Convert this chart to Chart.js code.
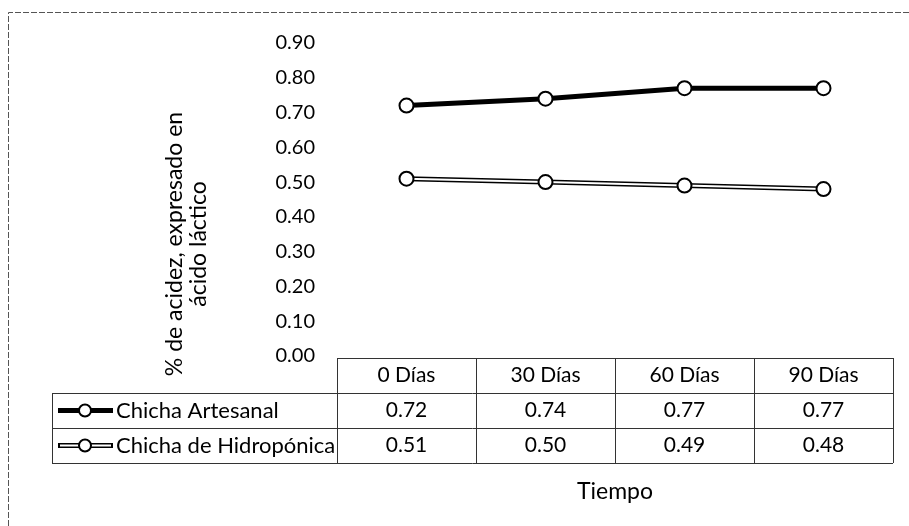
<!DOCTYPE html>
<html>
<head>
<meta charset="utf-8">
<script src="https://cdn.jsdelivr.net/npm/chart.js@4.4.0/dist/chart.umd.min.js"></script>
<style>
body{margin:0;background:#fff;}
</style>
</head>
<body>
<canvas id="acidezChart" width="909" height="526"></canvas>
<script>
// data
const categories = ["0 Días", "30 Días", "60 Días", "90 Días"];
const artesanal = [0.72, 0.74, 0.77, 0.77];
const hidroponica = [0.51, 0.50, 0.49, 0.48];
const seriesNames = ["Chicha Artesanal", "Chicha de Hidropónica"];
const yTitle = ["% de acidez, expresado en", "ácido láctico"];
const xTitle = "Tiempo";

const FONT = "Lato, 'Open Sans', sans-serif";

function drawKey(ctx, y, outline){
ctx.lineCap = "butt";
ctx.strokeStyle = "#000";
ctx.lineWidth = 5;
ctx.beginPath(); ctx.moveTo(58, y); ctx.lineTo(113, y); ctx.stroke();
if(outline){
ctx.strokeStyle = "#fff";
ctx.lineWidth = 2;
ctx.beginPath(); ctx.moveTo(60, y); ctx.lineTo(111, y); ctx.stroke();
}
ctx.beginPath();
ctx.arc(85, y, 6, 0, Math.PI*2);
ctx.fillStyle = "#fff";
ctx.fill();
ctx.lineWidth = 2;
ctx.strokeStyle = "#000";
ctx.stroke();
}

// draws the frame, axis titles and the data table under the plot
const tablePlugin = {
id: "dataTable",
beforeDraw(chart){
const ctx = chart.ctx;
ctx.save();
ctx.fillStyle = "#fff";
ctx.fillRect(0, 0, chart.width, chart.height);
ctx.strokeStyle = "#555";
ctx.lineWidth = 1;
ctx.setLineDash([6, 2]);
ctx.beginPath();
ctx.moveTo(8.5, chart.height);
ctx.lineTo(8.5, 12.5);
ctx.lineTo(chart.width, 12.5);
ctx.stroke();
ctx.restore();
},
afterDraw(chart){
const ctx = chart.ctx;
const x = chart.scales.x;
const area = chart.chartArea;
const colW = x.getPixelForValue(1) - x.getPixelForValue(0);
const left = area.left, right = area.right;
const keyLeft = 52;
const top = area.bottom + 2;
const rowH = 35;

ctx.save();
ctx.strokeStyle = "#333";
ctx.lineWidth = 1;
ctx.beginPath();
// header row
ctx.moveTo(left, top + 0.5); ctx.lineTo(right, top + 0.5);
for(let r = 1; r <= 3; r++){
let y = Math.round(top + r*rowH) + 0.5;
ctx.moveTo(keyLeft, y); ctx.lineTo(right, y);
}
ctx.moveTo(keyLeft + 0.5, top + rowH); ctx.lineTo(keyLeft + 0.5, top + 3*rowH);
for(let i = 0; i <= categories.length; i++){
let xx = Math.round(left + i*colW) + 0.5;
ctx.moveTo(xx, top); ctx.lineTo(xx, top + 3*rowH);
}
ctx.stroke();

ctx.fillStyle = "#000";
ctx.font = "21px " + FONT;
ctx.textAlign = "center";
ctx.textBaseline = "middle";
categories.forEach((c, i) => {
let cx = x.getPixelForValue(i);
ctx.fillText(c, cx, top + rowH/2);
ctx.fillText(artesanal[i].toFixed(2), cx, top + rowH*1.5);
ctx.fillText(hidroponica[i].toFixed(2), cx, top + rowH*2.5);
});

// legend keys
drawKey(ctx, top + rowH*1.5, false);
drawKey(ctx, top + rowH*2.5, true);

ctx.fillStyle = "#000";
ctx.font = "22px " + FONT;
ctx.textAlign = "left";
seriesNames.forEach((n, r) => {
ctx.fillText(n, 116, top + rowH*(r + 1.5));
});

// x title
ctx.textAlign = "center";
ctx.font = "23px " + FONT;
ctx.fillText(xTitle, (left + right)/2, 492);

// y title
ctx.translate(175, 244);
ctx.rotate(-Math.PI/2);
ctx.fillText(yTitle[0], 0, 0);
ctx.fillText(yTitle[1], 0, 24);
ctx.restore();
}
};

new Chart(document.getElementById("acidezChart"), {
type: "line",
data: {
labels: categories,
datasets: [
{
label: seriesNames[0],
data: artesanal,
borderColor: "#000",
borderWidth: 5,
pointRadius: 7,
pointBackgroundColor: "#fff",
pointBorderColor: "#000",
pointBorderWidth: 2,
tension: 0,
order: 0
},
{
label: seriesNames[1],
data: hidroponica,
borderColor: "#fff",
borderWidth: 2,
pointRadius: 7,
pointBackgroundColor: "#fff",
pointBorderColor: "#000",
pointBorderWidth: 2,
tension: 0,
order: 1
},
{
// dark edge under the white line
label: seriesNames[1] + " borde",
data: hidroponica,
borderColor: "#000",
borderWidth: 5,
pointRadius: 0,
tension: 0,
order: 2
}
]
},
options: {
responsive: false,
animation: false,
layout: { padding: { top: 43, bottom: 170, right: 16, left: 0 } },
plugins: { legend: { display: false }, tooltip: { enabled: false } },
scales: {
x: { display: false, offset: true },
y: {
min: 0,
max: 0.9,
afterFit: s => { s.width = 337; },
grid: { display: false, drawTicks: false },
border: { display: false },
ticks: {
stepSize: 0.1,
padding: 22,
color: "#000",
font: { family: FONT, size: 20 },
callback: v => v.toFixed(2)
}
}
}
},
plugins: [tablePlugin]
});
</script>
</body>
</html>
